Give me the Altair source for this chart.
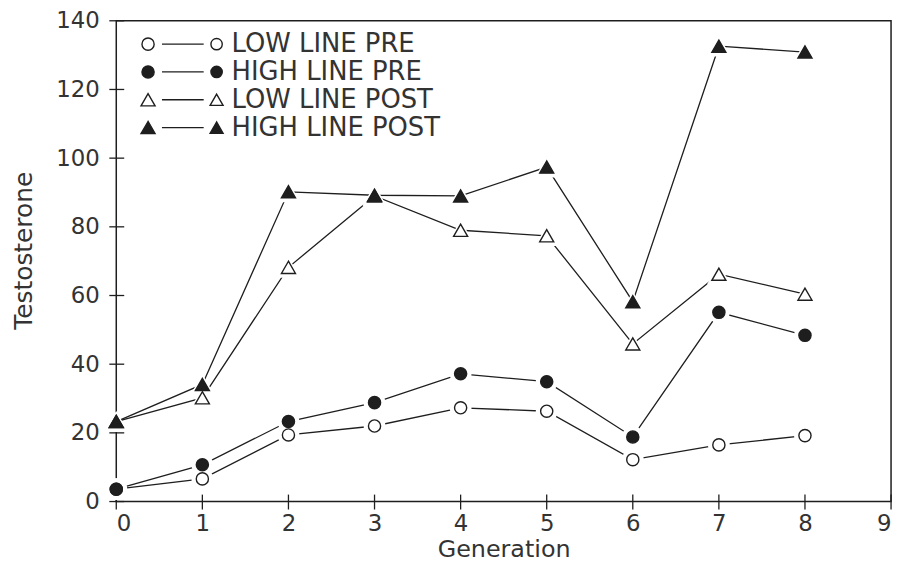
import altair as alt
import pandas as pd

# ---- data ----
generations = [0, 1, 2, 3, 4, 5, 6, 7, 8]
series_names = ["LOW LINE PRE", "HIGH LINE PRE", "LOW LINE POST", "HIGH LINE POST"]
low_pre = [3.6, 6.6, 19.4, 22.0, 27.3, 26.3, 12.2, 16.5, 19.2]
high_pre = [3.6, 10.7, 23.3, 28.8, 37.2, 34.9, 18.8, 55.1, 48.4]
low_post = [23.3, 30.2, 68.2, 89.0, 79.0, 77.4, 45.9, 66.2, 60.4]
high_post = [23.3, 34.1, 90.2, 89.2, 89.0, 97.4, 58.2, 132.6, 130.9]
x_tick_values = [0, 1, 2, 3, 4, 5, 6, 7, 8, 9]
y_tick_values = [0, 20, 40, 60, 80, 100, 120, 140]

circle_series = series_names[:2]
triangle_series = series_names[2:]

rows = []
for name, vals in zip(series_names, [low_pre, high_pre, low_post, high_post]):
    for g, v in zip(generations, vals):
        rows.append({"Generation": g, "Testosterone": v, "series": name})
df = pd.DataFrame(rows)

# legend rows (placed in data units, top-left of the plot)
LEG_TOP = 133.2
LEG_STEP = 8.1
legend_df = pd.DataFrame({
    "series": series_names,
    "ly": [LEG_TOP - i * LEG_STEP for i in range(len(series_names))],
})

xt_df = pd.DataFrame({"Generation": x_tick_values})
yt_df = pd.DataFrame({"Testosterone": y_tick_values})

INK = "#1e1e1e"
TXT = "#333333"
FONT = "DejaVu Sans"
W, H = 780, 484

x_scale = alt.Scale(domain=[0, 9], nice=False, zero=False)
y_scale = alt.Scale(domain=[0, 140], nice=False)
x_axis = alt.Axis(title="Generation", values=x_tick_values, labelFontSize=23,
                  titleFontSize=24, labelPadding=11,
                  titleY=55, titleBaseline="alphabetic",
                  labelFont=FONT, titleFont=FONT, labelColor=TXT,
                  titleColor=TXT, titleFontWeight="normal",
                  domain=False, ticks=False, grid=False)
y_axis = alt.Axis(title="Testosterone", values=y_tick_values, labelFontSize=23,
                  titleFontSize=25, labelPadding=17,
                  titleX=-93, titleY=231, titleBaseline="middle", titleAngle=270,
                  labelFont=FONT, titleFont=FONT, labelColor=TXT,
                  titleColor=TXT, titleFontWeight="normal",
                  domain=False, ticks=False, grid=False)

X = alt.X("Generation:Q", scale=x_scale, axis=x_axis)
Y = alt.Y("Testosterone:Q", scale=y_scale, axis=y_axis)
LY = alt.Y("ly:Q", scale=y_scale, axis=y_axis)

fill_scale = alt.Scale(domain=series_names, range=["white", INK, "white", INK])
fill_enc = alt.Fill("series:N", scale=fill_scale, legend=None)

CIRCLE_SIZE, TRI_SIZE = 150, 200
CIRCLE_HALO, TRI_HALO = 480, 580

# axis tick marks crossing the axes
x_ticks = alt.Chart(xt_df).mark_rule(color=INK, strokeWidth=1.3).encode(
    x=X, y=alt.value(H - 7), y2=alt.value(H + 8))
y_ticks = alt.Chart(yt_df).mark_rule(color=INK, strokeWidth=1.3).encode(
    y=Y, x=alt.value(-7), x2=alt.value(8))

base = alt.Chart(df).encode(x=X, y=Y)
lines = base.mark_line(color=INK, strokeWidth=1.3).encode(detail="series:N")

circ = base.transform_filter(alt.FieldOneOfPredicate(field="series", oneOf=circle_series))
tri = base.transform_filter(alt.FieldOneOfPredicate(field="series", oneOf=triangle_series))

halo_c = circ.mark_point(shape="circle", filled=True, color="white", opacity=1, size=CIRCLE_HALO)
halo_t = tri.mark_point(shape="triangle-up", filled=True, color="white", opacity=1, size=TRI_HALO)
pts_c = circ.mark_point(shape="circle", filled=True, stroke=INK, strokeWidth=1.4,
                        opacity=1, size=CIRCLE_SIZE).encode(fill=fill_enc)
pts_t = tri.mark_point(shape="triangle-up", filled=True, stroke=INK, strokeWidth=1.4,
                       opacity=1, size=TRI_SIZE).encode(fill=fill_enc)

leg = alt.Chart(legend_df)
leg_c = leg.transform_filter(alt.FieldOneOfPredicate(field="series", oneOf=circle_series))
leg_t = leg.transform_filter(alt.FieldOneOfPredicate(field="series", oneOf=triangle_series))
leg_line = leg.mark_rule(color=INK, strokeWidth=1.3).encode(
    y=LY, x=alt.value(46), x2=alt.value(88))
leg_layers = []
for xpos, csz, tsz in ((32, CIRCLE_SIZE, TRI_SIZE), (101, 130, 170)):
    leg_layers.append(leg_c.mark_point(shape="circle", filled=True, stroke=INK, strokeWidth=1.4,
                                       opacity=1, size=csz).encode(
        y=LY, x=alt.value(xpos), fill=fill_enc))
    leg_layers.append(leg_t.mark_point(shape="triangle-up", filled=True, stroke=INK, strokeWidth=1.4,
                                       opacity=1, size=tsz).encode(
        y=LY, x=alt.value(xpos), fill=fill_enc))
leg_text = leg.mark_text(align="left", baseline="middle", fontSize=26, font=FONT,
                         color=TXT).encode(
    y=LY, x=alt.value(116), text="series:N")

chart = alt.layer(
    x_ticks, y_ticks, lines, leg_line, halo_c, halo_t, pts_c, pts_t, *leg_layers, leg_text
).properties(
    width=W, height=H,
    autosize=alt.AutoSizeParams(type="none"),
    padding={"left": 109, "top": 11, "right": 8, "bottom": 61},
    background="white",
).configure_view(stroke=INK, strokeWidth=1.5)

chart.save("out.html", embed_options={"renderer": "svg", "actions": False})
